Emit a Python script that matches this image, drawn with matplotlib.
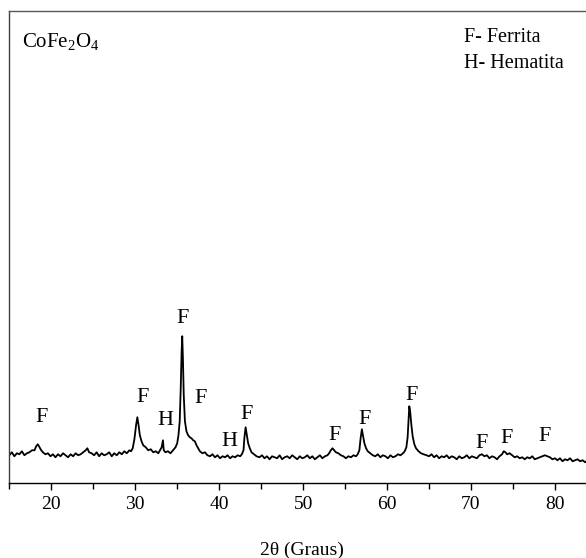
import matplotlib.pyplot as plt
from matplotlib.ticker import MultipleLocator

# -------------------------
# Dados lidos do difratograma (2theta em graus, intensidade em u.a.)
# -------------------------
dois_theta = [
    15.0, 15.3, 15.6, 15.9, 16.2, 16.5, 16.8, 17.1, 17.4, 17.7,
    18.0, 18.2, 18.4, 18.6, 18.8, 19.0, 19.3,
    19.6, 19.9, 20.2, 20.5, 20.8, 21.1, 21.4, 21.7, 22.0, 22.3, 22.6, 22.9, 23.2, 23.5, 23.8,
    24.1, 24.3, 24.5, 24.8,
    25.1, 25.4, 25.7, 26.0, 26.3, 26.6, 26.9, 27.2, 27.5, 27.8, 28.1, 28.4, 28.7, 29.0, 29.3,
    29.5, 29.7, 29.9, 30.1, 30.25, 30.4, 30.55, 30.75, 30.95, 31.25, 31.55, 31.85, 32.15, 32.45,
    32.75, 32.95, 33.15, 33.3, 33.4, 33.6, 33.9, 34.2, 34.5, 34.8, 35.0, 35.15, 35.3, 35.42,
    35.52, 35.6, 35.68, 35.78, 35.92, 36.1, 36.3, 36.5, 36.7, 36.9, 37.1, 37.3, 37.5, 37.7,
    38.0, 38.3, 38.6,
    38.9, 39.2, 39.5, 39.8, 40.1, 40.4, 40.7, 41.0, 41.3, 41.6, 41.9, 42.2, 42.5,
    42.7, 42.9, 43.0, 43.15, 43.3, 43.45, 43.65, 43.85, 44.15, 44.45,
    44.8, 45.1, 45.4, 45.7, 46.0, 46.3, 46.6, 46.9, 47.2, 47.5, 47.8, 48.1, 48.4, 48.7,
    49.0, 49.3, 49.6, 49.9, 50.2, 50.5, 50.8, 51.1, 51.4, 51.7, 52.0, 52.3, 52.6,
    52.9, 53.1, 53.3, 53.5, 53.7, 53.9, 54.2, 54.5,
    54.8, 55.1, 55.4, 55.7, 56.0, 56.3,
    56.5, 56.7, 56.85, 57.0, 57.15, 57.3, 57.5, 57.7, 58.0, 58.3,
    58.6, 58.9, 59.2, 59.5, 59.8, 60.1, 60.4, 60.7, 61.0, 61.3, 61.6,
    61.9, 62.1, 62.3, 62.45, 62.55, 62.65, 62.75, 62.9, 63.05, 63.25, 63.45, 63.75, 64.05, 64.35,
    64.7, 65.0, 65.3, 65.6, 65.9, 66.2, 66.5, 66.8, 67.1, 67.4, 67.7, 68.0, 68.3, 68.6,
    68.9, 69.2, 69.5, 69.8, 70.1, 70.4, 70.7,
    71.0, 71.3, 71.6, 71.9,
    72.2, 72.5, 72.8, 73.1, 73.4,
    73.7, 73.9, 74.1, 74.3, 74.6, 74.9,
    75.2, 75.5, 75.8, 76.1, 76.4, 76.7, 77.0, 77.3, 77.6, 77.9, 78.2,
    78.5, 78.8, 79.1, 79.4,
    79.7, 80.0, 80.3, 80.6, 80.9, 81.2, 81.5, 81.8, 82.1, 82.4, 82.7, 83.0, 83.3, 83.6, 83.9, 84.2,
]
intensidade = [
    28, 31, 27, 30, 29, 32, 28, 30, 31, 33,
    33, 37, 39, 36, 33, 31, 29,
    30, 27, 29, 26, 29, 27, 30, 28, 26, 29, 27, 30, 28, 29, 31,
    33, 35, 31, 30,
    28, 31, 27, 30, 28, 29, 31, 27, 30, 28, 31, 29, 32, 30, 33,
    32, 35, 44, 58, 66, 58, 48, 42, 38, 36, 33, 34, 31, 32,
    30, 33, 36, 43, 33, 31, 32, 30, 33, 36, 40, 48, 62, 95,
    130, 147, 125, 88, 62, 52, 48, 46, 45, 43, 42, 38, 35, 32,
    30, 31, 28,
    27, 29, 26, 28, 25, 27, 26, 28, 25, 27, 26, 28, 27,
    29, 33, 45, 56, 48, 40, 35, 31, 29, 27,
    26, 28, 25, 27, 24, 27, 26, 25, 28, 24, 26, 27, 25, 28,
    26, 24, 27, 25, 26, 28, 25, 27, 24, 26, 28, 25, 27,
    28, 30, 33, 35, 33, 31, 30, 28,
    27, 25, 27, 26, 28, 27,
    29, 33, 45, 54, 47, 40, 35, 32, 30, 28,
    27, 29, 26, 28, 27, 25, 28, 26, 27, 29, 28,
    30, 32, 36, 46, 62, 77, 72, 58, 47, 39, 35, 32, 30, 29,
    28, 27, 29, 26, 28, 25, 27, 26, 28, 25, 27, 26, 24, 27,
    25, 26, 28, 25, 27, 26, 25,
    28, 29, 27, 28,
    25, 27, 26, 24, 27,
    29, 32, 31, 29, 30, 28,
    26, 27, 25, 26, 24, 26, 25, 27, 24, 25, 26,
    27, 28, 27, 26,
    24, 25, 23, 25, 22, 24, 23, 25, 22, 23, 24, 22, 23, 21, 23, 22,
]

# identificacao das fases (F - ferrita, H - hematita)
picos_fase = ["F", "F", "H", "F", "F", "H", "F", "F", "F", "F", "F", "F", "F"]
picos_x = [18.86, 30.88, 33.62, 35.64, 37.82, 41.27, 43.30, 53.69, 57.27, 62.87, 71.24, 74.21, 78.77]
picos_y = [61.5, 81.5, 58.5, 160.5, 80, 37.5, 64, 43.5, 59.5, 83.5, 35, 40, 42.5]

legenda = ["F- Ferrita", "H- Hematita"]
amostra = "CoFe$_2$O$_4$"

# -------------------------
# Grafico
# -------------------------
plt.rcParams["font.family"] = ["Liberation Serif", "DejaVu Serif"]
plt.rcParams["mathtext.fontset"] = "custom"
plt.rcParams["mathtext.rm"] = "Liberation Serif"
plt.rcParams["mathtext.it"] = "Liberation Serif"

fig = plt.figure(figsize=(5.86, 5.58), dpi=100)
ax = fig.add_axes([0.0159, 0.1339, 0.9841, 0.8464])

ax.plot(dois_theta, intensidade, color="black", lw=1.3)

for fase, x, y in zip(picos_fase, picos_x, picos_y):
    ax.text(x, y, fase, fontsize=16, ha="center", va="baseline")

ax.text(0.0215, 0.924, amostra, transform=ax.transAxes, fontsize=15, va="baseline")
ax.text(0.788, 0.934, legenda[0], transform=ax.transAxes, fontsize=14.5, va="baseline")
ax.text(0.788, 0.879, legenda[1], transform=ax.transAxes, fontsize=14.5, va="baseline")

ax.set_xlim(15, 83.7)
ax.set_ylim(0, 472)

ax.xaxis.set_major_locator(MultipleLocator(10))
ax.xaxis.set_minor_locator(MultipleLocator(5))
ax.tick_params(axis="x", which="major", direction="out", length=5, width=1, labelsize=14, pad=4)
ax.tick_params(axis="x", which="minor", direction="out", length=4, width=1)
ax.set_yticks([])

ax.spines["right"].set_visible(False)
for lado in ["left", "top", "bottom"]:
    ax.spines[lado].set_linewidth(1.0)
ax.spines["top"].set_color("0.35")
ax.spines["left"].set_color("0.25")

fig.text(302 / 586, 1 - 555 / 558, "2θ (Graus)", fontsize=14, ha="center", va="baseline")

plt.savefig("out.png", dpi=100)
